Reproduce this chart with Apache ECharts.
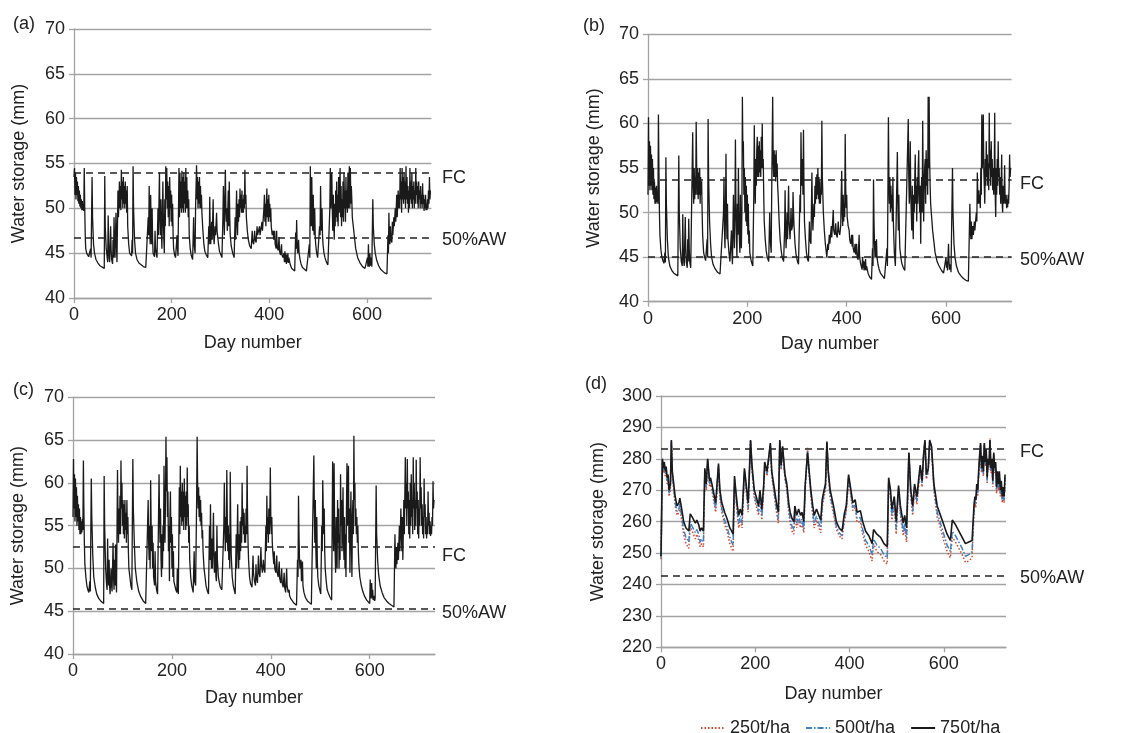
<!DOCTYPE html>
<html><head><meta charset="utf-8">
<script src="https://cdn.jsdelivr.net/npm/echarts@6/dist/echarts.min.js"></script>
<style>html,body{margin:0;padding:0;background:#fff}#c{width:1134px;height:733px}</style>
</head><body><div id="c"></div>
<script>
const xTicks=[0,200,400,600];
const panelLabels=['(a)','(b)','(c)','(d)'];
const legendNames=['250t/ha','500t/ha','750t/ha'];
const fcA=54.0, awA=46.7, fcB=53.65, awB=45.05, fcC=52.5, awC=45.3, fcD=283.1, awD=242.8;

const seriesA=[[0,53.5],[1,54.5],[2,51.5],[3,54],[4,51],[5,53.5],[6,51.5],[7,53],[8,50.8],[9,52.5],[10,50.5],[11,52],[12,50.2],[13,51.5],[14,50],[15,51],[16,49.8],[17,50.8],[18,49.8],[19,50.5],[20,49.7],
[21,54.5],[22,50],[23,47],[24,45.5],[26,45],[28,44.8],[30,44.6],[32,44.5],[34,45.5],[35,44.5],
[37,53.5],[38,49],[40,46],[42,45],[45,44.3],[49,43.9],[53,43.6],[57,43.4],[62,43.3],
[63,53.6],[64,48],[66,45.5],[68,44.5],[69,44],[70,49.2],[71,46],[72,44.5],[73,44],[75,48],[76,45.5],[77,44.3],[79,43.8],[80,46.5],[81,44.5],[82,49],[83,46],[84,44.5],[86,49.5],[87,46],[88,44],
[90,52],[91,49],[92,50.5],[93,53],[94,50],[95,52.5],[96,49.8],[97,54.3],[98,51],[99,53],[100,50],[101,53.5],[102,50.5],[103,52.5],[104,50],[105,53],[106,50.5],[107,52],[108,49.5],[109,52.5],[110,48],[112,46],[114,45],[116,44.8],[118,44.7],[119,46.5],[120,45],
[121,54.7],[122,50],[124,46.5],[126,45],[129,44.3],[133,43.9],[137,43.7],[142,43.5],[147,43.4],[150,43.3],
[152,49],[153,47],[154,52.5],[155,48],[156,46],[157,51.5],[158,48],[159,46],[160,50],[161,46.5],[162,45],[163,44.8],[165,44.6],[166,47.5],[167,45.5],[169,44.8],[170,44.5],
[172,50],[173,47],[175,54],[176,49],[177,47],[178,51],[179,47.5],[180,45.5],[181,49],[182,53],[183,49],[184,46.5],[185,45],[186,51],[187,48],
[188,54.7],[189,51],[190,54.5],[191,50],[192,53],[193,49],[194,52.5],[195,48],[196,53.5],[197,50],[198,52],[199,48.5],[200,51.5],[201,48],[202,50.5],[203,47],[204,45.5],[206,44.8],[208,44.5],[210,44.5],[211,47],[212,45.5],[213,44.7],
[215,54.5],[216,49],[217,54],[218,50],[219,53],[220,49.5],[221,54.2],[222,50],[223,53.5],[224,49.5],[225,54],[226,50.5],[227,53],[228,49.5],[229,54.5],[230,50],[231,53.5],[232,50],[233,52],[234,49],[235,51],[236,47],[238,45.5],[240,44.8],[243,44.3],
[245,49],[246,46],[248,45],[249,50],
[251,54.8],[252,51],[253,53.5],[254,50],[255,53],[256,50.5],[257,53.5],[258,50],[259,52.5],[260,50],[261,51.5],[262,49.5],[264,47.5],[266,46],[268,45.2],[271,44.8],[274,44.5],
[276,48],[277,46],[278,51.3],[279,47.5],[280,46],[282,48.5],[283,46.5],[285,51],[286,47],[287,46],[289,48],[290,47],[292,49.5],[293,47.5],[294,47],[296,46],[298,45.2],[301,44.8],[303,44.5],
[305,49],[306,52.5],[307,49],[308,47],[309,51],[310,54.3],[311,50],[312,48.5],[313,50],[314,47.5],[316,52],[317,48],[318,53],[319,49],[320,47],[322,45.8],[325,45],[328,44.5],
[330,49],[331,46.5],[333,52],[334,48.5],[335,47],[336,50.5],[337,48.5],[338,51],[339,49],[340,52.2],[341,50],[342,51.5],[343,49.5],[344,52],[345,49.5],[346,51],[347,49.5],[348,51.5],[349,50],[350,54.3],[351,50.5],[352,51.5],[353,49],[355,47.5],[357,46.5],[360,45.8],[363,45.5],
[365,47.5],[366,46.3],[368,46],[370,47.5],[371,46.5],[373,46.2],[375,48],[376,47],[378,46.8],[380,48],[381,47],[383,47],[385,48.5],[386,47.5],[388,47.5],
[389,50],[390,51.5],[391,48.5],[392,50.5],[393,48],[394,50.5],[395,52.2],[396,49],[397,51],[398,48.5],[399,51.5],[400,49],[401,50.5],[402,48.5],[403,50],[404,48],[406,47],[408,47.5],[409,46.5],[411,47.5],[412,46],[414,45.5],[415,47.5],[416,45.8],[418,45.3],[420,46.8],[421,45.2],[423,44.8],[425,46],[426,44.8],[428,44.5],[430,45],[431,44],[432,45.2],[433,44],[434,45],[435,43.8],[436,44.8],[437,44],[438,45],[439,43.9],[440,44.5],[443,43.7],[446,43.3],[450,43.1],[452,43],
[454,47.3],[455,45.5],[456,48.7],[457,46],[458,45],[460,46.5],[461,45],[463,44.3],[465,43.8],[468,43.4],[472,43.2],[476,43],[480,42.9],
[482,46],[483,44.5],[484,54.7],[485,50],[486,48],[487,53.5],[488,49],[489,47.5],[490,51.5],[491,48],[492,47],[493,50],[494,47],[495,46],[497,45],[499,44.5],[501,44.3],[502,44.5],
[503,48],[504,47],[505,52.5],[506,49],[507,47.5],[508,50],[509,47],[510,46],[512,45],[514,44.5],[517,44],[520,43.7],[523,43.5],
[524,50],[525,54.5],[526,50],[527,52],[528,54],[529,50],[530,47.5],[531,51.5],[532,48.5],[533,46.5],[534,50.5],[535,48],[536,52],[537,49],[538,53],[539,48.5],[540,51.5],[541,48],[542,53.5],[543,49.5],[544,52],[545,54.5],[546,49],[547,52.5],[548,48],[549,51],[550,49],[551,53],[552,48.5],[553,54],[554,50],[555,52],[556,48.5],[557,53.5],[558,50],[559,52],[560,49.5],[561,54],[562,50],[563,53],[564,54.7],[565,50],[566,54.5],[567,50.5],[568,52.5],[569,51],[570,49],[572,48],[574,47],[577,45.5],[581,44.5],[586,43.9],[591,43.5],[596,43.3],[600,43.2],
[601,44.5],[602,43.5],[603,46],[604,44],[605,43.5],[606,45],[607,43.6],[609,44.5],[610,43.5],[611,43.3],
[612,51],[613,48],[615,46],[617,45],[620,44.2],[624,43.6],[628,43.2],[632,43],[636,42.8],[641,42.7],
[643,47],[644,45],[645,49.5],[646,46.5],[647,46],[648,48],[649,46.5],[651,46.2],[652,48.5],[653,47],[655,49],[656,48],[658,50],[659,48.5],[661,51.5],[662,49],[664,52],[665,50],[666,51.5],[667,50],
[668,54.5],[669,51],[670,53],[671,49.5],[672,54.5],[673,51],[674,53.5],[675,50.5],[676,54],[677,51],[678,53],[679,50],[680,54.7],[681,51],[682,53.5],[683,50.5],[684,52.5],[685,49.5],[686,52],[687,50],[688,54.5],[689,51],[690,53],[691,50.5],[692,54],[693,50],[694,52.5],[695,51],[696,53],[697,50],[698,52],[699,50.5],[700,54.5],[701,51.5],[702,53],[703,50.5],[704,52.5],[705,50],[706,53],[707,51],[708,52],[709,50],[710,52.5],[711,50.5],[712,51.5],[713,50],[714,52.8],[715,50.5],[716,51.5],[717,49.7],[718,51],[719,50],[720,51.5],[721,49.8],[722,50.5],[723,49.8],[724,51],[725,50],[726,52],[727,50.5],[728,53.5],[729,51],[730,52]];

const seriesB=[[0,52],[1,60.7],[2,53],[3,58],[4,52.5],[5,57.5],[6,53],[7,56.5],[8,52.5],[9,56],[10,52],[11,55],[12,51.5],[13,53.5],[14,51],[15,52.8],[16,51],[17,53],[18,51.2],[19,52.5],[20,51],
[21,61],[22,55],[23,50],[24,47.5],[26,45.8],[28,45],[30,44.6],[32,44.3],[34,45.5],[35,44.4],
[36,56.2],[37,51],[39,47],[41,45],[44,44],[48,43.5],[52,43.2],[56,43],[60,42.9],
[62,56.4],[63,50],[65,46],[67,44.5],[69,44],[70,49.8],[71,46],[72,44.5],[73,44],[75,49.5],[76,46],[77,44.5],[79,43.8],[80,47],[81,44.5],[82,49.3],[83,46],[84,44.5],[86,43.8],[88,43.6],
[90,59],[91,53],[92,51],[93,55],[94,51.5],[95,54],[96,52],[97,60.2],[98,55],[99,52],[100,55],[101,51.5],[102,54.5],[103,52],[104,55],[105,51],[106,54],[107,52],[108,53.5],[109,50],[110,47.5],[112,45.5],[114,45],[116,44.6],[118,44.4],[119,47],[120,45],
[121,60.5],[122,54],[124,49],[126,46.5],[128,45],[131,44.2],[135,43.7],[140,43.3],[145,43.1],[149,43],
[152,50],[153,54],[154,48],[155,46],[156,50],[157,56.6],[158,50],[159,47],[160,51],[161,47],[163,45.5],[165,44.5],[167,44.3],[168,48],[169,45.5],[170,44.2],
[172,52],[173,48],[174,46],[175,50],[176,58.2],[177,51],[178,47.5],[179,45],[180,51],[181,47.5],[182,55],[183,50],[184,47],[185,45.5],[186,52],[187,48],[188,46],[189,50],
[190,63],[191,57],[192,58],[193,52],[194,55],[195,50],[196,54],[197,49],[198,53],[199,48.5],[200,52],[201,47.5],[202,51],[203,46.5],[204,48],[205,45.5],[207,44.8],[209,44.3],[211,44],
[213,52],[214,59.8],[215,54],[216,51],[217,56],[218,53],[219,57],[220,58.5],[221,54],[222,57.5],[223,54],[224,58],[225,54.5],[226,57],[227,54],[228,58.5],[229,55],[230,60],[231,55],[232,56],[233,52],[234,49],[236,47],[238,45.7],[240,45],[243,44.5],
[245,50],[246,47],[248,45.5],[249,52],
[251,63],[252,56],[253,54],[254,57],[255,54],[256,56.5],[257,53.5],[258,57],[259,54],[260,55.5],[261,53],[262,52],[264,49],[266,47],[268,45.8],[270,45],[273,44.5],
[275,48],[276,52.5],[277,48],[278,46],[280,50],[281,47],[283,53],[284,49],[286,47],[288,50.5],[289,48],[291,48.5],[292,52.3],[293,50],[294,48.5],[296,46.5],[298,45.3],[301,44.5],[303,44.2],[305,44],
[306,52],[307,50],[308,59],[309,54],[310,53],[311,56],[312,52],[313,59.3],[314,53],[315,49],[317,47],[319,45.5],[321,44.8],[323,44.5],
[325,49],[326,47],[328,46.5],[330,54.5],[331,50],[332,48],[334,51],[335,49.5],[336,53],[337,51],[338,54],[339,51.5],[340,54.3],[341,52],[342,55],[343,51.5],[344,54],[345,51],[346,53.5],[347,51],[348,52.5],[349,52],[350,60.3],[351,54],[352,52],[353,50],[355,48],[357,46.5],[360,45],
[362,46.5],[363,45.8],[365,47.5],[366,46.5],[368,46.3],[369,48.5],[370,47.2],[371,47],[373,50.3],[374,48],[376,47.5],[378,48.8],[379,47.6],[381,47.2],[383,49],[384,48],[386,47.5],[388,48.5],
[389,52],[390,54.7],[391,50],[392,48.5],[393,52],[394,49],[395,51],[396,49.5],[397,58.8],[398,53],[399,50.5],[400,52],[401,49.5],[403,48.5],[405,48],[406,47],[408,46.5],[410,47.5],[411,46.2],[412,47.5],[413,46],[415,45.5],[417,46.5],[418,45.3],[420,46.5],[421,45],[423,44.7],[425,47.5],[426,45],[428,44.3],[430,44.5],[431,43.6],[432,45],[433,43.8],[434,44.6],[435,43.5],[436,44.5],[437,43.6],[438,44.8],[439,43.5],[440,44],[443,43.2],[446,42.8],[450,42.5],
[452,46],[453,44],[454,53.7],[455,49],[456,46.5],[457,45],[458,46.8],[459,45],[460,47],[461,45],[463,44.2],[465,43.7],[468,43.2],[472,42.9],[476,42.6],[479,42.5],
[481,46],[482,44],[484,60.7],[485,54],[486,51],[487,54],[488,50],[489,53],[490,50.5],[491,52],[492,49],[493,54],[494,49],[495,47],[496,45.5],[498,44],[500,43.8],
[502,56.8],[503,51],[504,48],[505,52],[506,48],[507,46],[509,45],[511,44.3],[514,43.8],[517,43.5],[521,43.3],
[524,60.5],[525,54],[526,51],[527,53],[528,58],[529,52],[530,50],[531,48],[532,53],[533,49],[534,47],[535,52],[536,50],[537,53.5],[538,56.5],[539,51],[540,53],[541,49],[542,54],[543,51],[544,55],[545,57],[546,52],[547,50],[548,53],[549,46.5],[550,52],[551,54],[552,50],[553,60.3],[554,54],[555,49],[556,53],[557,55],[558,56],[559,51],[560,57],[561,53],[562,56],[563,52],[564,63],[565,55],[566,63],[567,56],[568,53],[569,51],[571,49.5],[573,48],[575,47],[578,45.5],[582,44.5],[586,44],[591,43.5],[595,43.2],[598,43],
[600,45],[601,43.8],[602,44.5],[603,43.5],[605,46.5],[606,44.5],[607,43.6],[609,44.2],[610,43.3],[611,43.5],
[613,55],[614,50],[616,46.5],[618,45],[621,44],[625,43.3],[630,42.9],[635,42.6],[640,42.4],[645,42.3],
[648,51],[649,48],[650,47],[651,49],[652,47],[654,48.5],[655,47.5],[657,49],[658,48],[661,50],[662,49],[663,54.5],[664,52],[665,51],[666,52.5],[667,51],[668,52],[669,50.5],[670,55],[671,52],
[672,61],[673,55],[674,57],[675,61],[676,55],[677,53],[678,51],[679,56],[680,53],[681,58],[682,54],[683,56.5],[684,53],[685,55.5],[686,52.5],[687,61.2],[688,55],[689,57],[690,53],[691,58],[692,54],[693,56],[694,52.5],[695,55],[696,52],[697,54],[698,61.2],[699,52],[700,49.5],[701,55],[702,52],[703,56],[704,53],[705,58],[706,54],[707,55],[708,52],[709,54],[710,51],[711,53],[712,56.5],[713,51],[714,50],[715,53],[716,51],[717,52],[718,55.3],[719,51],[720,50.8],[721,52],[722,50.5],[723,51.5],[724,50.6],[725,52],[726,51],[727,53],[728,56.5],[729,54],[730,55]];

const seriesC=[[0,56],[1,62.8],[2,57],[3,61],[4,55.5],[5,60.5],[6,56],[7,59.5],[8,55],[9,58.5],[10,55.5],[11,57.5],[12,54.5],[13,57],[14,54],[15,56],[16,54],[17,55.5],[18,54.2],[19,55.8],[20,54.5],
[21,62.6],[22,57],[23,53],[24,50.5],[26,49],[28,48],[30,47.5],[32,47.2],[34,48.5],[35,47.3],
[37,60.5],[38,56],[40,51.5],[42,49],[45,47.8],[48,47],[52,46.5],[56,46.2],[60,46],[62,45.9],
[63,60.8],[64,55],[66,50],[68,48],[69,47.5],
[70,53.5],[71,49.5],[72,48],[73,51],[74,48],[75,47],[77,50],[78,48],[79,47.3],[81,53],[82,49],[83,47.5],[84,51],[85,48],[86,52.8],[87,49],[88,47.2],
[90,61.5],[91,56],[92,53],[93,57],[94,54],[95,58.5],[96,54],[97,62.6],[98,57],[99,60],[100,55],[101,58],[102,54],[103,57.5],[104,53.5],[105,58],[106,54.5],[107,56.5],[108,53],[109,58],[110,54],[111,56],[112,52],[113,50],[115,49],[117,48],[119,47.5],
[121,62.8],[122,57],[124,53],[126,50],[129,48.5],[133,47.3],[137,46.7],[142,46.2],[147,45.9],[150,45.8],
[152,58],[153,53],[154,51],[155,55],[156,50],[157,60.3],[158,55],[159,52],[160,55],[161,50],[162,53],[163,49],[165,48],[166,52],[167,48.5],[169,47.5],[171,47],[172,47.2],
[174,61],[175,56],[176,53],[177,57],[178,51],[179,49],[180,54],[181,50],[182,55],[183,52],[184,62],[185,57],[186,53],[187,58],
[188,65.4],[189,59],[190,63],[191,56],[192,59],[193,52],[194,55],[195,48.5],[196,56],[197,59],[198,53],[199,56],[200,50],[201,54],[202,49],[203,52],[204,48.5],[206,48],[208,47.5],[210,47.2],[211,50],[212,48],[213,47],
[215,59.5],[216,54],[217,62],[218,56],[219,59],[220,55],[221,60],[222,55.5],[223,59],[224,54.5],[225,60.5],[226,56],[227,58.5],[228,54.5],[229,59],[230,55],[231,61.8],[232,56],[233,57.5],[234,53],[235,55],[236,51],[238,49],[240,48],[242,47.5],[243,47.2],[245,52],[246,48.5],[248,48],
[250,58],[251,65.4],[252,60],[253,57],[254,59.5],[255,56],[256,58.5],[257,55.5],[258,58],[259,55],[260,56.5],[261,53.5],[262,54.5],[263,52],[265,50],[267,49],[269,48],[272,47.3],[274,47],
[276,55],[277,51],[278,57.5],[279,52],[280,50],[281,53.5],[282,50],[284,56.5],[285,52],[286,49.5],[288,52],[289,49],[290,48.5],[291,55],[292,51],[294,49],[296,48.3],[298,47.8],[301,47.5],[303,47.3],
[305,55],[306,60],[307,55],[308,52],[309,56],[310,53],[311,61.5],[312,56],[313,52],[314,55],[315,51],[316,54],[317,50],[318,61.3],[319,55],[320,51.5],[322,49],[324,48],[326,47.5],[328,47],
[330,54],[331,50],[333,57.5],[334,52.5],[335,50],[336,54],[337,51],[338,55.5],[339,52],[340,56],[341,53],[342,60],[343,55],[344,57],[345,54],[346,56.5],[347,53],[348,55],[349,53],[350,57],[351,54],[352,62],[353,56],[354,53],[355,51],[357,49],[359,48.2],[362,47.8],
[364,51.5],[365,49.5],[367,48.5],[369,48],[370,50.5],[371,49],[373,48.3],[375,51.5],[376,49.5],[378,49],[380,52.5],[381,50.5],[383,49.5],[385,51],[386,50],[388,49.5],
[390,55],[391,52],[392,58.5],[393,54],[394,56],[395,53],[396,57],[397,54],[398,56],[399,61.8],[400,56],[401,54],[402,56],[403,53],[404,52],[406,50.5],[407,52],[408,50],[410,49.5],[412,51.5],[413,49.5],[415,49],[417,50.8],[418,48.8],[420,48.3],[422,50],[423,48.3],[425,47.8],[427,49.5],[428,47.8],[430,47.2],[432,50],[433,48],[435,47.2],[437,47.5],[438,46.8],[440,46.5],[443,46.3],[446,46],[450,45.8],[452,45.7],
[454,51],[455,49],[456,58.5],[457,54],[458,51],[459,50],[461,51],[462,48.5],[464,50.8],[465,48],[467,47.2],[470,46.6],[474,46.2],[478,46],[482,45.8],[485,45.7],
[487,63.2],[488,57],[489,53],[490,58],[491,52.5],[492,50],[493,56],[494,51],[495,49],[497,48],[499,47.5],[501,47],[502,47],
[503,55],[504,52],[505,60.3],[506,57],[507,54],[508,57],[509,52],[510,50],[512,48.5],[514,47.5],[517,47],[520,46.6],[523,46.3],
[525,62.5],[526,56],[527,52],[528,62.3],[529,55],[530,52],[531,49.5],[532,56],[533,52],[534,50],[535,58],[536,53],[537,57],[538,50],[539,54],[540,51],[541,61],[542,55],[543,58],[544,52],[545,55],[546,59.5],[547,53],[548,51],[549,56],[550,50],[551,54],[552,49],[553,57],[554,62.3],[555,55],[556,58],[557,62],[558,53],[559,57],[560,49.5],[561,55],[562,59],[563,53],[564,49],[565,56],[566,58],[567,54],[568,65.5],[569,58],[570,60],[571,55],[572,57],[573,54],[574,56],[575,53],[576,55],[577,52],[578,50.5],[580,49],[583,48],[586,47.3],[590,46.7],[594,46.3],[597,46.1],[600,45.9],
[601,48.7],[602,46.5],[603,47.3],[604,48.3],[605,46.5],[606,47.5],[607,46.3],[609,46.8],[610,46.2],[611,46.5],
[613,59.7],[614,54],[616,51],[618,49.3],[621,48],[625,47.2],[629,46.6],[634,46.2],[639,45.9],[644,45.7],[649,45.5],
[651,54],[652,51],[653,50],[654,52.5],[655,50.5],[657,53],[658,51],[660,55],[661,52],[663,57],[664,54],[665,52],[666,56],[667,51],
[669,58],[670,54],[672,63],[673,57],[674,60],[675,55],[676,62.8],[677,57],[678,59],[679,54],[680,58],[681,53.5],[682,60],[683,55],[684,61],[685,56],[686,58],[687,54],[688,63],[689,57],[690,60],[691,54.5],[692,58],[693,55],[694,62.7],[695,57],[696,59],[697,54],[698,58],[699,53.5],[700,57],[701,55],[702,63],[703,57],[704,59.5],[705,55],[706,57.5],[707,54],[708,56],[709,53.5],[710,60.5],[711,56],[712,57.5],[713,54],[714,56],[715,53.5],[716,55],[717,54],[718,59],[719,55],[720,56.5],[721,54],[722,55.5],[723,53.8],[724,55],[725,54],[726,56],[727,55],[728,60.2],[729,57],[730,58]];

const dDays=[0,3,5,7,9,11,13,15,17,20,22,24,27,30,34,38,40,45,48,53,59,62,66,69,73,76,80,83,86,90,93,96,99,103,105,108,112,116,122,125,129,135,140,146,150,153,156,158,162,165,168,172,177,180,185,188,190,193,198,202,207,210,214,218,220,225,229,232,235,239,243,246,249,252,255,258,263,267,271,274,278,282,284,288,292,296,299,303,306,311,315,318,322,325,330,335,339,342,346,349,352,355,359,366,372,378,384,389,393,398,403,407,412,416,423,428,434,441,448,451,458,466,473,480,483,487,490,495,499,504,508,514,517,521,526,530,534,538,543,547,550,554,557,560,563,567,570,574,579,586,593,600,607,614,618,625,632,639,646,653,660,664,666,668,670,672,674,676,678,680,682,684,686,688,690,692,694,696,698,700,702,704,706,708,710,712,714,716,718,720,722,724,726,728,730];
const dBlack=[249,280,277,279,276,277.5,274,275,270,272,286,276,272,268,265,266,267.5,263,260,258,257,262.5,261.5,261,259.5,260.5,259,257,258,257,277,272,280,273,274,272,272.5,266,278.5,270,266,263,261,258,257,256,274.5,271,265,262,264,262,277,273,266,278,286,278,270,268,265,270,264,272,279,276,281,285,276,272,268,265,263,286,278,284,275,272,266,263,261,260,265,262,264,262,263,260,272,282,275,270,265,262,264,262,260.5,267,270,272,285.5,276,270,265,260,258,257,262.5,265,275,270,266,267,263,263.5,260,257,255.5,253,257.5,256,255,253,252,274,270,264,268,260,271.5,265,259.5,262,258,282,270,265,272,268,274,278,273,281,286,275,277,286,284,272,265,262,259,256,254,260.5,259,257,255,253,253.5,254,265,268,267,272,270,276,281,285,277,281,276,285,279,283,274,280,278,286,277,280,273,282,277,279,271,276,272,276,270,273,268,271,268,275];
const dBlue=[248.5,279.7,276.2,278.2,275.2,276.7,273,274.2,269,271,285.7,275.2,271,266.2,263.2,264.2,265.7,260.5,257.5,255,253.5,260,258.5,258,256.5,257.5,256,253.5,254.5,253.5,276.2,271,279.7,272,273,271,271.5,264.2,277.7,268.5,264.2,260.5,258.5,255,253.5,252.5,273.5,270,263.2,259.5,261.8,259.5,276.2,272,264.2,277.2,285.7,277.2,268.5,266.2,263.2,269,261.8,271,278.2,275.2,280.7,284.7,275.2,271,266.2,263.2,260.8,285.7,277.2,283.7,274.2,271,264.2,260.8,258.5,257.5,263.2,259.5,261.8,259.5,260.8,257.5,271,282.5,274.2,269,263.2,259.5,261.8,259.5,258,265.5,269,271,285.2,275.2,268.5,263.5,258.5,256.5,255.5,261,263.8,274.2,268.8,264.5,265.5,261,261.3,257.5,254,252.5,249.5,254.5,252.5,251.5,249.5,248.5,273,268.5,261.8,266.5,257.5,270.5,263,256.8,259.5,255,281.7,268.8,263.2,271,266.5,273,277.2,272,280.7,285.7,274.2,276.2,285.7,283.7,271,263,259.5,256,252.5,250.5,257,255.5,253.5,251.5,249,249.5,250.5,263.5,266.8,265.5,271,269,275.2,280.7,284.7,276.2,280.7,275.2,284.7,278.2,282.7,273,279.7,277.2,286,276.2,279.7,272,281.7,276.2,278.2,270,275.2,271,275.2,269,272,266.8,270,266.8,274.2];
const dRed=[248,279.5,275.5,277.5,274.5,276,272,273.5,268,270,285.5,274.5,270,265,262,263,264.5,259,256,253,251.5,258.5,257,256.5,254.5,256,254,252,253,252,275.5,270,279.5,271,272,270,270.5,263,277,267.5,263,259,257,253,251.5,250.5,272.5,269,262,258,260.5,258,275.5,271,263,276.5,285.5,276.5,267.5,265,262,268,260.5,270,277.5,274.5,280.5,284.5,274.5,270,265,262,259.5,285.5,276.5,283.5,273.5,270,263,259.5,257,256,262,258,260.5,258,259.5,256.5,270,283.5,273.5,268,262,258,260.5,258,256.5,264.5,268,270,285,274.5,267.5,262.5,257.5,255.5,254.5,260,263,273.5,268,263.5,264.5,259.8,260,256,252.5,250.5,247.5,253,250.5,249.5,247.5,246.5,272,267.5,260.5,265.5,256,269.5,262,255.5,258,253.5,281.5,268,262,270,265.5,272,276.5,271,280.5,285.5,273.5,275.5,285.5,283.5,270,261.5,258,254,250.5,248.5,255,253.5,251.5,249.5,247,247.5,248.5,262.5,266,264.5,270,268,274.5,280.5,284.5,275.5,280.5,274.5,284.5,277.5,282.5,272,279.5,276.5,286.5,275.5,279.5,271,281.5,275.5,277.5,269,274.5,270,274.5,268,271,266,269,266,273.5];

const FONT='"Liberation Sans", Arial, Helvetica, sans-serif';
const TXT='#222';
const GRIDC='#a3a3a3';
const zip=(xs,ys)=>xs.map((x,i)=>[x,ys[i]]);

const gridDefs=[
 {left:74,top:29,width:357.4,height:269},
 {left:648,top:34.3,width:363.6,height:267.4},
 {left:73,top:397.3,width:362,height:256.7},
 {left:661,top:396,width:345,height:251.3}
];
const xGaps=[36,33,35,38];
const yGaps=[46,45,46,54];
function xAx(i){return {type:'value',gridIndex:i,min:0,max:732,interval:200,
 name:'Day number',nameLocation:'middle',nameGap:xGaps[i],
 nameTextStyle:{fontSize:18,color:TXT,fontFamily:FONT},
 axisLine:{show:true,lineStyle:{color:GRIDC,width:1.3}},
 axisTick:{show:true,length:5,lineStyle:{color:GRIDC,width:1.3},customValues:xTicks},
 axisLabel:{fontSize:18,color:TXT,fontFamily:FONT,margin:8,customValues:xTicks},
 splitLine:{show:false}};}
function yAx(i,min,max,iv){return {type:'value',gridIndex:i,min:min,max:max,interval:iv,
 name:'Water storage (mm)',nameLocation:'middle',nameGap:yGaps[i],
 nameTextStyle:{fontSize:18,color:TXT,fontFamily:FONT},
 axisLine:{show:true,lineStyle:{color:GRIDC,width:1.3}},
 axisTick:{show:true,length:5,lineStyle:{color:GRIDC,width:1.3}},
 axisLabel:{fontSize:18,color:TXT,fontFamily:FONT,margin:9},
 splitLine:{show:true,lineStyle:{color:GRIDC,width:1.3}}};}
function refLines(fc,aw){return {silent:true,symbol:'none',label:{show:false},animation:false,
 lineStyle:{color:'#222',type:[7,5],width:1.5},data:[{yAxis:fc},{yAxis:aw}]};}
function blackLine(i,data,fc,aw){return {type:'line',xAxisIndex:i,yAxisIndex:i,data:data,symbol:'none',showSymbol:false,
 lineStyle:{color:'#1a1a1a',width:1.3},z:3,markLine:refLines(fc,aw),animation:false};}

const graphics=[];
const labPos=[[13,24],[583,26],[13,390],[585,384]];
panelLabels.forEach((t,i)=>graphics.push({type:'text',style:{text:t,x:labPos[i][0],y:labPos[i][1],font:'18px '+FONT,fill:TXT,verticalAlign:'middle'}}));
const refTxt=[[442,178,'FC'],[442,240,'50%AW'],[1020,184,'FC'],[1020,260,'50%AW'],[442,556,'FC'],[442,613,'50%AW'],[1020,452,'FC'],[1020,578,'50%AW']];
refTxt.forEach(r=>graphics.push({type:'text',style:{text:r[2],x:r[0],y:r[1],font:'18px '+FONT,fill:TXT,verticalAlign:'middle'}}));

const chart=echarts.init(document.getElementById('c'));
chart.setOption({
 animation:false,
 backgroundColor:'#fff',
 grid:gridDefs,
 xAxis:[xAx(0),xAx(1),xAx(2),xAx(3)],
 yAxis:[yAx(0,40,70,5),yAx(1,40,70,5),yAx(2,40,70,5),yAx(3,220,300,10)],
 legend:{data:legendNames,left:695,top:714,itemWidth:24,itemHeight:12,itemGap:15,
   itemStyle:{opacity:0},
   textStyle:{fontSize:18,color:TXT,fontFamily:FONT}},
 graphic:graphics,
 series:[
  blackLine(0,seriesA,fcA,awA),
  blackLine(1,seriesB,fcB,awB),
  blackLine(2,seriesC,fcC,awC),
  {name:legendNames[0],type:'line',xAxisIndex:3,yAxisIndex:3,data:zip(dDays,dRed),symbol:'none',showSymbol:false,
   lineStyle:{color:'#d8452a',width:1.5,type:[1.5,2]},itemStyle:{color:'#d8452a'},z:2,animation:false,
   markLine:refLines(fcD,awD)},
  {name:legendNames[1],type:'line',xAxisIndex:3,yAxisIndex:3,data:zip(dDays,dBlue),symbol:'none',showSymbol:false,
   lineStyle:{color:'#3b82c8',width:1.5,type:[6,2,1.5,2]},itemStyle:{color:'#3b82c8'},z:3,animation:false},
  {name:legendNames[2],type:'line',xAxisIndex:3,yAxisIndex:3,data:zip(dDays,dBlack),symbol:'none',showSymbol:false,
   lineStyle:{color:'#1a1a1a',width:1.6},itemStyle:{color:'#1a1a1a'},z:4,animation:false}
 ]
});
</script></body></html>
